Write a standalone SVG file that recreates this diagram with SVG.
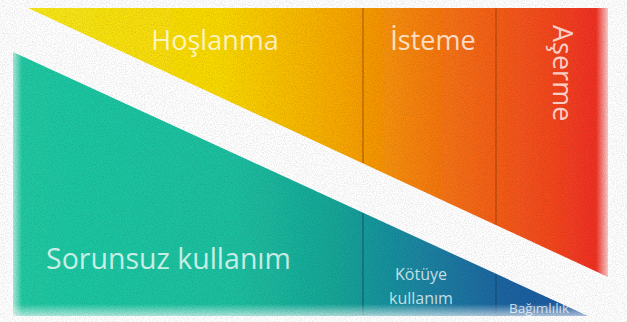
<svg xmlns="http://www.w3.org/2000/svg" width="627" height="322" viewBox="0 0 627 322">
  <defs>
    <linearGradient id="warm" x1="28" y1="0" x2="608" y2="0" gradientUnits="userSpaceOnUse">
      <stop offset="0" stop-color="#f6e71a"/>
      <stop offset="0.33" stop-color="#f8d800"/>
      <stop offset="0.55" stop-color="#f6a400"/>
      <stop offset="0.72" stop-color="#f47212"/>
      <stop offset="0.9" stop-color="#f2471e"/>
      <stop offset="1" stop-color="#ee2a24"/>
    </linearGradient>
    <linearGradient id="cool" x1="13" y1="0" x2="590" y2="0" gradientUnits="userSpaceOnUse">
      <stop offset="0" stop-color="#20c8a2"/>
      <stop offset="0.38" stop-color="#1cbf9f"/>
      <stop offset="0.56" stop-color="#17a597"/>
      <stop offset="0.7" stop-color="#1a85a0"/>
      <stop offset="0.85" stop-color="#1d64a0"/>
      <stop offset="1" stop-color="#1f56a0"/>
    </linearGradient>
    <linearGradient id="fadeRight" x1="596" y1="0" x2="610" y2="0" gradientUnits="userSpaceOnUse">
      <stop offset="0" stop-color="#fff" stop-opacity="0"/>
      <stop offset="1" stop-color="#fff" stop-opacity="0.9"/>
    </linearGradient>
    <linearGradient id="fadeBottom" x1="0" y1="304" x2="0" y2="318" gradientUnits="userSpaceOnUse">
      <stop offset="0" stop-color="#fff" stop-opacity="0"/>
      <stop offset="1" stop-color="#fff" stop-opacity="0.75"/>
    </linearGradient>
    <linearGradient id="fadeLeft" x1="12" y1="0" x2="22" y2="0" gradientUnits="userSpaceOnUse">
      <stop offset="0" stop-color="#fff" stop-opacity="0.7"/>
      <stop offset="1" stop-color="#fff" stop-opacity="0"/>
    </linearGradient>
    <filter id="soft" x="-5%" y="-5%" width="110%" height="110%">
      <feGaussianBlur stdDeviation="0.7"/>
    </filter>
    <filter id="canvas" x="0" y="0" width="100%" height="100%">
      <feTurbulence type="fractalNoise" baseFrequency="0.9" numOctaves="2" seed="3" result="n"/>
      <feColorMatrix type="matrix" values="0 0 0 0 0  0 0 0 0 0  0 0 0 0 0  0 0 0 -1.2 0.75" in="n"/>
    </filter>
  </defs>
  <style>
    .lbl { font-family: "Open Sans", "Liberation Sans", sans-serif; fill: #ffffff; fill-opacity: 0.75; }
    .big { font-size: 27px; }
    .xl { font-size: 28.5px; }
    .mid { font-size: 16px; }
    .sm { font-size: 13.5px; }
    .divTop { stroke: #8a3a08; stroke-width: 1; stroke-opacity: 0.7; }
    .divBot { stroke: #123f5e; stroke-width: 1; stroke-opacity: 0.7; }
  </style>

  <rect width="627" height="322" fill="#ffffff"/>

  <g filter="url(#soft)">
    <g id="warm-zone">
      <polygon points="28,8 608,8 608,277" fill="url(#warm)"/>
    </g>
    <g id="cool-zone">
      <polygon points="13,52 588,316 13,316" fill="url(#cool)"/>
    </g>
  </g>

  <g id="connectors">
    <line class="divTop" x1="363" y1="8" x2="363" y2="163"/>
    <line class="divTop" x1="496" y1="8" x2="496" y2="225"/>
    <line class="divBot" x1="363" y1="213" x2="363" y2="316"/>
    <line class="divBot" x1="496" y1="274" x2="496" y2="316"/>
  </g>

  <rect x="590" y="0" width="25" height="322" fill="url(#fadeRight)"/>
  <rect x="0" y="300" width="627" height="22" fill="url(#fadeBottom)"/>
  <rect x="8" y="40" width="16" height="282" fill="url(#fadeLeft)"/>

  <rect width="627" height="322" fill="#ffffff" filter="url(#canvas)" opacity="0.18"/>

  <g id="hoslanma">
    <text class="lbl big" x="215" y="50" text-anchor="middle">Hoşlanma</text>
  </g>
  <g id="isteme">
    <text class="lbl big" x="433" y="50" text-anchor="middle">İsteme</text>
  </g>
  <g id="aserme">
    <text class="lbl big" transform="translate(553,25) rotate(90)" x="0" y="0">Aşerme</text>
  </g>
  <g id="sorunsuz-kullanim">
    <text class="lbl xl" x="46" y="269">Sorunsuz kullanım</text>
  </g>
  <g id="kotuye-kullanim">
    <text class="lbl mid" x="421" y="280" text-anchor="middle">Kötüye</text>
    <text class="lbl mid" x="421" y="304" text-anchor="middle">kullanım</text>
  </g>
  <g id="bagimlilik">
    <text class="lbl sm" x="539" y="313" text-anchor="middle">Bağımlılık</text>
  </g>
</svg>
